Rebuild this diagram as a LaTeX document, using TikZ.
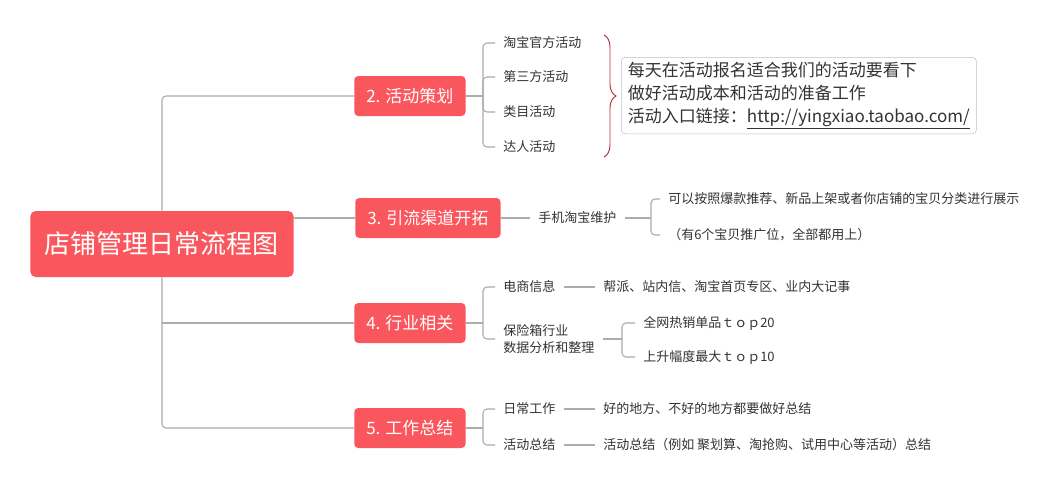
\documentclass[tikz,border=0pt]{standalone}
\usepackage{fontspec}
\setmainfont{Noto Sans CJK SC}
\usetikzlibrary{decorations.pathreplacing}

\definecolor{boxred}{RGB}{249,87,93}
\definecolor{linegray}{RGB}{172,172,172}
\definecolor{txtgray}{RGB}{51,51,51}
\definecolor{bracered}{RGB}{178,48,58}

\tikzset{
	rootbox/.style={fill=boxred, text=white, rounded corners=4pt, inner xsep=11pt,
		minimum height=49.5pt, font=\fontsize{19.5}{24}\selectfont},
	branch/.style={fill=boxred, text=white, rounded corners=3pt, inner xsep=9pt,
		minimum height=30pt, anchor=west, font=\fontsize{12.75}{15}\selectfont},
	leaf/.style={anchor=west, inner xsep=6pt, inner ysep=2pt, text=txtgray,
		font=\fontsize{9.75}{13}\selectfont},
	notebox/.style={draw=black!25, rounded corners=3pt, align=left, inner xsep=5pt,
		inner ysep=3.5pt, text=txtgray, font=\fontsize{12.75}{17.25}\selectfont},
	link/.style={draw=linegray, line width=0.8pt, rounded corners=3pt},
}

\begin{document}
\begin{tikzpicture}[x=0.75pt, y=-0.75pt]
	\useasboundingbox[fill=white] (0,0) rectangle (1054,489);
	% main topic and branches
	\node[rootbox] (root) at (162,244) {店铺管理日常流程图};
	\node[branch] (b2) at (354,96) {2. 活动策划};
	\node[branch] (b3) at (355,218) {3. 引流渠道开拓};
	\node[branch] (b4) at (354,323) {4. 行业相关};
	\node[branch] (b5) at (354,428) {5. 工作总结};
	\draw[link] (root.north) |- (b2.west);
	\draw[link] (root.east |- b3.west) -- (b3.west);
	\draw[link] (root.south |- b4.west) -- (b4.west);
	\draw[link] (root.south) |- (b5.west);
	% 2
	\coordinate (j2) at (483,96);
	\draw[link] (b2.east) -- (j2);
	\foreach \lbl/\y [count=\i] in {淘宝官方活动/43, 第三方活动/77, 类目活动/112, 达人活动/147} {
		\node[leaf] (s2\i) at (495,\y) {\lbl};
		\draw[link] (j2) |- (s2\i.west);
		}
	\coordinate (bt) at (604,35);
	\coordinate (bb) at (604,157);
	\draw[bracered, line width=0.7pt, decorate, decoration={brace, amplitude=9pt}] (bt) -- (bb);
	\node[notebox, anchor=north west] (note) at (621,57)
		{每天在活动报名适合我们的活动要看下\\做好活动成本和活动的准备工作\\活动入口链接：\underline{http://yingxiao.taobao.com/}};
	% 3
	\node[leaf] (s31) at (530,218) {手机淘宝维护};
	\draw[link] (b3.east) -- (s31.west);
	\coordinate (j3) at (651,218);
	\draw[link] (s31.east) -- (j3);
	\node[leaf] (s32) at (660,199) {可以按照爆款推荐、新品上架或者你店铺的宝贝分类进行展示};
	\node[leaf] (s33) at (660,235) {（有6个宝贝推广位，全部都用上）};
	\draw[link] (j3) |- (s32.west);
	\draw[link] (j3) |- (s33.west);
	% 4
	\coordinate (j4) at (483,323);
	\draw[link] (b4.east) -- (j4);
	\node[leaf] (s41) at (495,287) {电商信息};
	\node[leaf, align=left] (s42) at (495,339) {保险箱行业\\数据分析和整理};
	\draw[link] (j4) |- (s41.west);
	\draw[link] (j4) |- (s42.west);
	\node[leaf] (s43) at (595,287) {帮派、站内信、淘宝首页专区、业内大记事};
	\draw[link] (s41.east) -- (s43.west);
	\coordinate (j42) at (622,339);
	\draw[link] (s42.east) -- (j42);
	\node[leaf] (s44) at (635,323) {全网热销单品ｔｏｐ20};
	\node[leaf] (s45) at (635,357) {上升幅度最大ｔｏｐ10};
	\draw[link] (j42) |- (s44.west);
	\draw[link] (j42) |- (s45.west);
	% 5
	\coordinate (j5) at (483,428);
	\draw[link] (b5.east) -- (j5);
	\node[leaf] (s51) at (495,409) {日常工作};
	\node[leaf] (s52) at (495,445) {活动总结};
	\draw[link] (j5) |- (s51.west);
	\draw[link] (j5) |- (s52.west);
	\node[leaf] (s53) at (595,409) {好的地方、不好的地方都要做好总结};
	\node[leaf] (s54) at (595,445) {活动总结（例如 聚划算、淘抢购、试用中心等活动）总结};
	\draw[link] (s51.east) -- (s53.west);
	\draw[link] (s52.east) -- (s54.west);
\end{tikzpicture}
\end{document}
